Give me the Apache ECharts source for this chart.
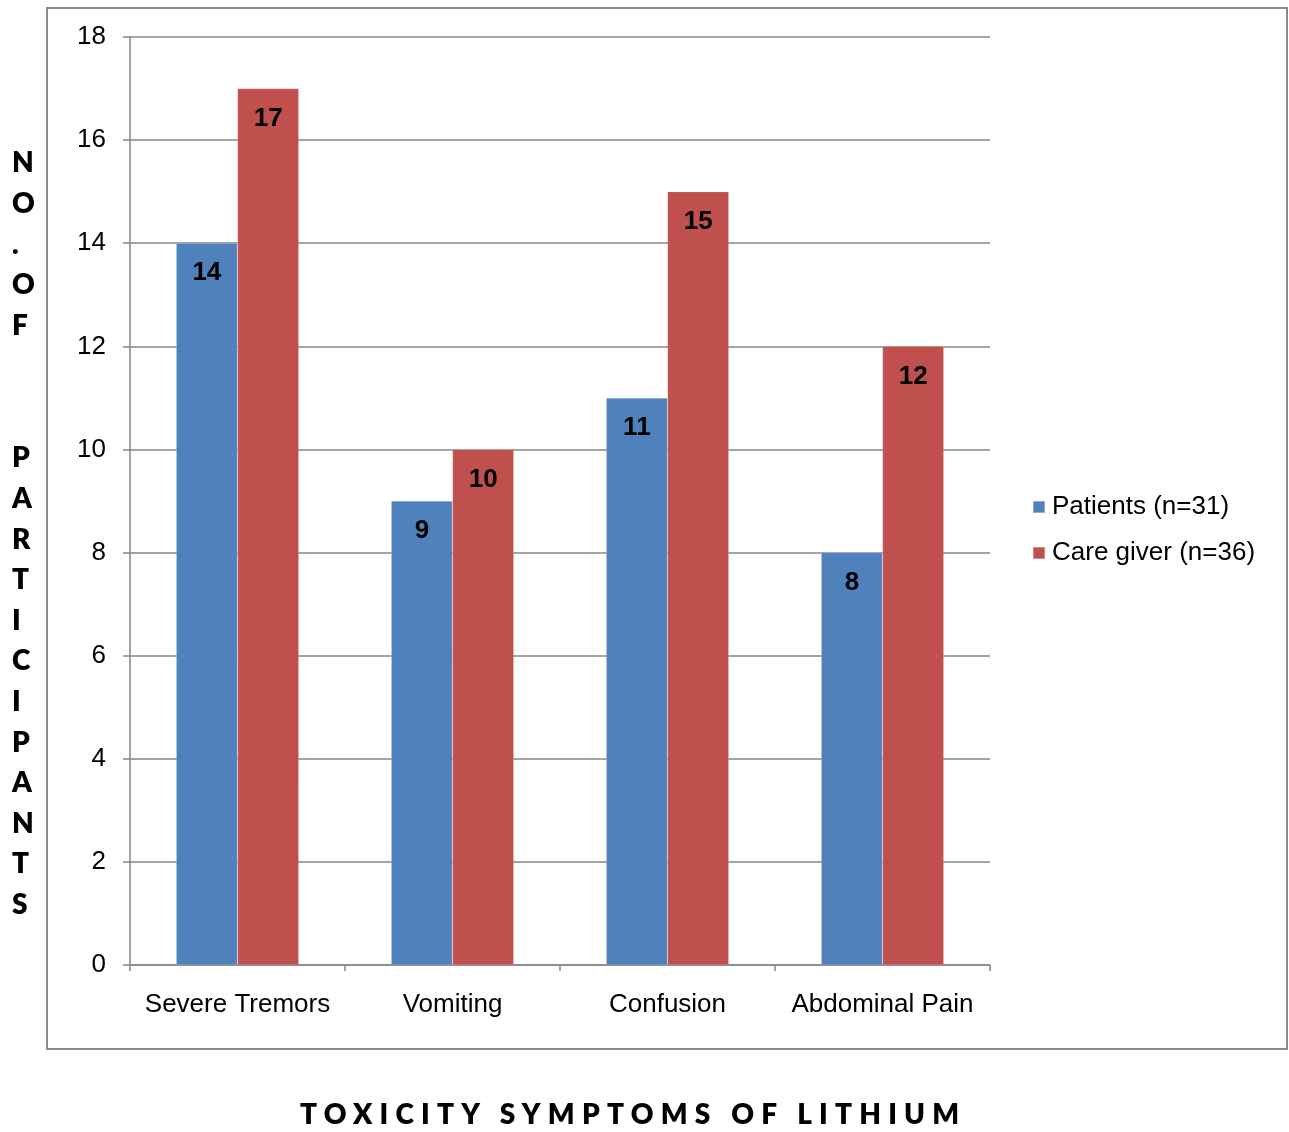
<!DOCTYPE html>
<html>
<head>
<meta charset="utf-8">
<script src="https://cdn.jsdelivr.net/npm/echarts@6/dist/echarts.min.js"></script>
<style>
  html, body { margin: 0; padding: 0; background: #fff; }
  #wrap { position: relative; width: 1289px; height: 1132px; }
  #chart { position: absolute; left: 0; top: 0; width: 1289px; height: 1132px; }
  #xTitle {
    position: absolute; left: 300px; top: 1098px;
    font-family: Lato, "Noto Sans", sans-serif; font-weight: 800;
    font-size: 28px; line-height: 30px; letter-spacing: 7.2px;
    color: #000; white-space: pre;
  }
</style>
</head>
<body>
<div id="wrap">
  <div id="chart"></div>
  <div id="xTitle">TOXICITY SYMPTOMS OF LITHIUM</div>
</div>
<script>
// Lithium toxicity symptoms reported by patients and care givers
const categories = ['Severe Tremors', 'Vomiting', 'Confusion', 'Abdominal Pain'];
const patients = [14, 9, 11, 8];
const careGivers = [17, 10, 15, 12];
const seriesNames = ['Patients (n=31)', 'Care giver (n=36)'];
const yTicks = { min: 0, max: 18, interval: 2 };

const chart = echarts.init(document.getElementById('chart'), null, { renderer: 'canvas' });

const axisGray = '#868686';
const labelFont = '"Liberation Sans", Arial, sans-serif';

const dataLabel = {
  show: true,
  position: 'insideTop',
  distance: 17,
  color: '#000',
  fontWeight: 'bold',
  fontSize: 26,
  fontFamily: labelFont
};

chart.setOption({
  backgroundColor: '#fff',
  animation: false,
  graphic: [
    {
      type: 'rect',
      shape: { x: 47, y: 8, width: 1240, height: 1041 },
      style: { fill: 'none', stroke: '#8a8a8a', lineWidth: 2 },
      silent: true
    },
    {
      type: 'text',
      left: 12,
      top: 143,
      style: {
        text: 'N\nO\n.\nO\nF\n{g| }\n{g| }\nP\nA\nR\nT\nI\nC\nI\nP\nA\nN\nT\nS',
        font: '800 28px Lato, "Noto Sans", sans-serif',
        fill: '#000',
        align: 'center',
        lineHeight: 40.6,
        width: 22,
        rich: { g: { lineHeight: 46, fontSize: 28 } }
      }
    }
  ],
  legend: {
    orient: 'vertical',
    left: 1032,
    top: 494,
    padding: 0,
    itemWidth: 12,
    itemHeight: 12,
    itemGap: 20,
    icon: 'rect',
    textStyle: { fontSize: 26, color: '#000', fontFamily: labelFont, padding: [0, 0, 0, 2] },
    data: seriesNames
  },
  grid: { left: 130, right: 299, top: 37, bottom: 167, containLabel: false },
  xAxis: {
    type: 'category',
    data: categories,
    axisLine: { lineStyle: { color: axisGray, width: 1.5 } },
    axisTick: { show: true, interval: 0, length: 6, lineStyle: { color: axisGray, width: 1.5 } },
    axisLabel: { interval: 0, margin: 27, fontSize: 26, color: '#000', fontFamily: labelFont }
  },
  yAxis: {
    type: 'value',
    min: yTicks.min,
    max: yTicks.max,
    interval: yTicks.interval,
    axisLine: { show: true, lineStyle: { color: axisGray, width: 1.5 } },
    axisTick: { show: true, length: 7, lineStyle: { color: axisGray, width: 1.5 } },
    axisLabel: { margin: 24, fontSize: 26, color: '#000', fontFamily: labelFont },
    splitLine: { show: true, lineStyle: { color: axisGray, width: 1.5 } }
  },
  series: [
    {
      name: seriesNames[0],
      type: 'bar',
      data: patients,
      barGap: '0%',
      barCategoryGap: '43%',
      itemStyle: { color: '#4F81BD', borderColor: 'rgba(255,255,255,0.35)', borderWidth: 0.5 },
      label: dataLabel
    },
    {
      name: seriesNames[1],
      type: 'bar',
      data: careGivers,
      barGap: '0%',
      barCategoryGap: '43%',
      itemStyle: { color: '#C0504D', borderColor: 'rgba(255,255,255,0.35)', borderWidth: 0.5 },
      label: dataLabel
    }
  ]
});
</script>
</body>
</html>
